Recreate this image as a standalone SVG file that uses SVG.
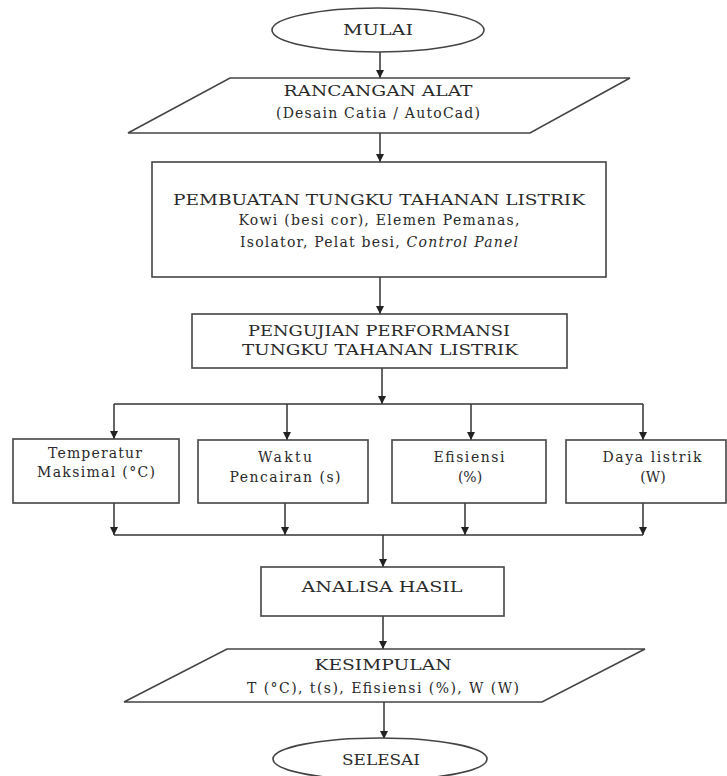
<svg xmlns="http://www.w3.org/2000/svg" width="727" height="776" viewBox="0 0 727 776">
<style>
.shape{fill:#fff;stroke:#444;stroke-width:1.6}
.conn{fill:none;stroke:#333;stroke-width:1.5}
text{font-family:"DejaVu Serif","Liberation Serif",serif;font-size:14px;fill:#2a2a2a;text-anchor:middle}
.cap{font-size:14.5px}
</style>
<defs>
<marker id="ah" markerUnits="userSpaceOnUse" markerWidth="8" markerHeight="8" refX="8" refY="4" orient="auto">
<path d="M0,0 L8,4 L0,8 z" fill="#222"/>
</marker>
</defs>
<rect width="727" height="776" fill="#fff"/>
<g id="connectors">
<line class="conn" x1="380" y1="52" x2="380" y2="78" marker-end="url(#ah)"/>
<line class="conn" x1="380" y1="133" x2="380" y2="162" marker-end="url(#ah)"/>
<line class="conn" x1="380" y1="277" x2="380" y2="314" marker-end="url(#ah)"/>
<line class="conn" x1="382" y1="368" x2="382" y2="404" marker-end="url(#ah)"/>
<line class="conn" x1="114" y1="404" x2="643" y2="404"/>
<line class="conn" x1="114" y1="404" x2="114" y2="439" marker-end="url(#ah)"/>
<line class="conn" x1="287" y1="404" x2="287" y2="440" marker-end="url(#ah)"/>
<line class="conn" x1="471" y1="404" x2="471" y2="440" marker-end="url(#ah)"/>
<line class="conn" x1="643" y1="404" x2="643" y2="440" marker-end="url(#ah)"/>
<line class="conn" x1="114" y1="503" x2="114" y2="535" marker-end="url(#ah)"/>
<line class="conn" x1="285" y1="503" x2="285" y2="535" marker-end="url(#ah)"/>
<line class="conn" x1="465" y1="503" x2="465" y2="535" marker-end="url(#ah)"/>
<line class="conn" x1="643" y1="503" x2="643" y2="535" marker-end="url(#ah)"/>
<line class="conn" x1="114" y1="535" x2="643" y2="535"/>
<line class="conn" x1="383" y1="535" x2="383" y2="567" marker-end="url(#ah)"/>
<line class="conn" x1="383" y1="616" x2="383" y2="649" marker-end="url(#ah)"/>
<line class="conn" x1="384" y1="702" x2="384" y2="739" marker-end="url(#ah)"/>
</g>
<g id="mulai">
<ellipse class="shape" cx="378" cy="30" rx="106" ry="22"/>
<text class="cap" x="378" y="35" textLength="70" lengthAdjust="spacingAndGlyphs">MULAI</text>
</g>
<g id="rancangan">
<polygon class="shape" points="230,78 630,78 530,133 128,133"/>
<text class="cap" x="378" y="96" textLength="189" lengthAdjust="spacingAndGlyphs">RANCANGAN ALAT</text>
<text x="378" y="118" textLength="204">(Desain Catia / AutoCad)</text>
</g>
<g id="pembuatan">
<rect class="shape" x="152" y="162" width="454" height="115"/>
<text class="cap" x="379" y="205" textLength="412" lengthAdjust="spacingAndGlyphs">PEMBUATAN TUNGKU TAHANAN LISTRIK</text>
<text x="379" y="225" textLength="281">Kowi (besi cor), Elemen Pemanas,</text>
<text x="379" y="247" textLength="278">Isolator, Pelat besi, <tspan font-style="italic">Control Panel</tspan></text>
</g>
<g id="pengujian">
<rect class="shape" x="192" y="314" width="375" height="54"/>
<text class="cap" x="379" y="336" textLength="262" lengthAdjust="spacingAndGlyphs">PENGUJIAN PERFORMANSI</text>
<text class="cap" x="380" y="355" textLength="276" lengthAdjust="spacingAndGlyphs">TUNGKU TAHANAN LISTRIK</text>
</g>
<g id="temperatur">
<rect class="shape" x="13" y="439" width="166" height="64"/>
<text x="95" y="458" textLength="94">Temperatur</text>
<text x="96" y="477" textLength="118">Maksimal (°C)</text>
</g>
<g id="waktu">
<rect class="shape" x="198" y="440" width="170" height="63"/>
<text x="285" y="462" textLength="54">Waktu</text>
<text x="285" y="482" textLength="111">Pencairan  (s)</text>
</g>
<g id="efisiensi">
<rect class="shape" x="392" y="440" width="154" height="63"/>
<text x="469" y="462" textLength="71">Efisiensi</text>
<text x="470" y="482">(%)</text>
</g>
<g id="daya">
<rect class="shape" x="566" y="440" width="160" height="63"/>
<text x="652" y="462" textLength="99">Daya listrik</text>
<text x="653" y="482">(W)</text>
</g>
<g id="analisa">
<rect class="shape" x="261" y="567" width="243" height="49"/>
<text class="cap" x="382" y="592" textLength="161" lengthAdjust="spacingAndGlyphs">ANALISA HASIL</text>
</g>
<g id="kesimpulan">
<polygon class="shape" points="227,649 645,649 542,702 124,702"/>
<text class="cap" x="383" y="670" textLength="137" lengthAdjust="spacingAndGlyphs">KESIMPULAN</text>
<text x="383" y="693" textLength="272">T (°C), t(s), Efisiensi (%), W (W)</text>
</g>
<g id="selesai">
<ellipse class="shape" cx="380" cy="759" rx="107" ry="21"/>
<text class="cap" x="381" y="765" textLength="78" lengthAdjust="spacingAndGlyphs">SELESAI</text>
</g>
</svg>
